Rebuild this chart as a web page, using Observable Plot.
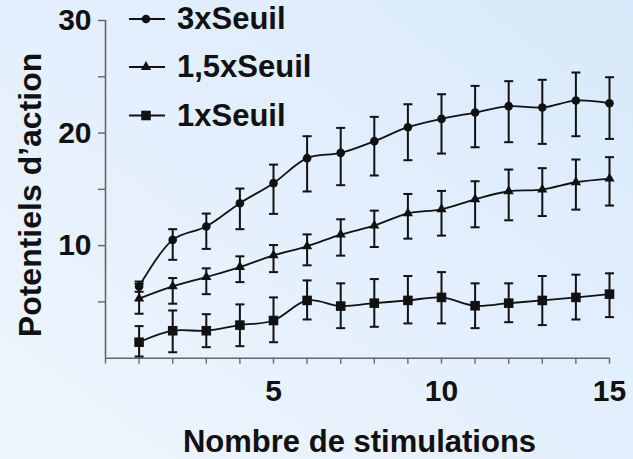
<!DOCTYPE html>
<html><head><meta charset="utf-8">
<script src="https://cdn.jsdelivr.net/npm/d3@7"></script>
<script src="https://cdn.jsdelivr.net/npm/@observablehq/plot@0.6"></script>
<style>
html,body{margin:0;padding:0;}
#wrap{position:relative;width:633px;height:459px;background:linear-gradient(to top right,#eef6fe,#d9e9fb);overflow:hidden;font-family:"Liberation Sans",Arial,sans-serif;}
#wrap svg{position:absolute;left:0;top:0;}
</style></head><body><div id="wrap"></div>
<script>
// Data
const stim = [1,2,3,4,5,6,7,8,9,10,11,12,13,14,15];
const seuil3Mean = [6.37,10.51,11.70,13.77,15.55,17.77,18.24,19.28,20.52,21.26,21.82,22.39,22.27,22.89,22.65];
const seuil3Low  = [5.90,8.74,9.71,11.46,12.82,14.81,15.37,16.23,17.59,18.18,18.74,19.19,19.04,19.72,19.48];
const seuil3High = [6.81,11.46,12.85,15.07,17.20,19.72,20.46,21.44,22.56,23.45,24.19,24.61,24.73,25.38,24.96];
const seuil15Mean = [5.30,6.38,7.21,8.10,9.14,9.94,10.98,11.78,12.87,13.23,14.12,14.83,14.98,15.63,15.96];
const seuil15Low  = [3.95,4.84,5.69,6.76,7.65,8.25,9.11,9.88,10.62,10.89,11.63,12.25,12.63,13.20,13.56];
const seuil15High = [6.60,7.12,7.98,9.05,10.05,11.00,12.34,13.11,14.59,14.86,15.72,16.76,16.88,17.65,17.86];
const seuil1Mean = [1.42,2.44,2.44,2.94,3.35,5.13,4.63,4.89,5.13,5.40,4.66,4.89,5.13,5.40,5.69];
const seuil1Low  = [0.15,0.53,0.98,1.07,1.42,3.44,2.67,2.79,3.09,3.09,2.67,3.20,2.94,3.44,3.65];
const seuil1High = [2.85,4.24,3.91,4.78,5.40,6.91,6.65,7.03,7.30,7.65,6.65,6.65,7.30,7.42,7.54];
const seriesNames = ["3xSeuil","1,5xSeuil","1xSeuil"];
const xTicks = [0,1,2,3,4,5,6,7,8,9,10,11,12,13,14,15];
const xLabels = [5,10,15];
const yTicks = [5,10,15,20,25,30];
const yLabels = [10,20,30];
const xTitle = "Nombre de stimulations";
const yTitle = "Potentiels d’action";

const ink = "#111";
const rows = (m, lo, hi) => stim.map((x, i) => ({x, y: m[i], lo: lo[i], hi: hi[i]}));
const sets = [
  {name: seriesNames[0], data: rows(seuil3Mean, seuil3Low, seuil3High), symbol: "circle", r: 4.3},
  {name: seriesNames[1], data: rows(seuil15Mean, seuil15Low, seuil15High), symbol: "triangle", r: 3.8},
  {name: seriesNames[2], data: rows(seuil1Mean, seuil1Low, seuil1High), symbol: "square", r: 5.4}
];
const cap = {draw(ctx, size) { const w = Math.sqrt(size / Math.PI); ctx.moveTo(-w, 0); ctx.lineTo(w, 0); }};

const marks = [
  Plot.ruleX([0], {stroke: "#666", strokeWidth: 1.6}),
  Plot.ruleY([0], {stroke: "#666", strokeWidth: 1.6}),
  Plot.axisX(xTicks, {tickSize: 6, tickPadding: 15, tickFormat: d => xLabels.includes(d) ? d : "", fontSize: 30, fill: ink, stroke: "#666", strokeWidth: 1.4, label: null}),
  Plot.axisY(yTicks, {tickSize: 7, tickPadding: 7, tickFormat: d => yLabels.includes(d) ? d : "", fontSize: 30, fill: ink, stroke: "#666", strokeWidth: 1.4, label: null}),
  Plot.text([xTitle], {text: d => d, frameAnchor: "bottom", textAnchor: "middle", lineAnchor: "bottom", dx: 2, dy: 94, fontSize: 31, fill: ink}),
  Plot.text([yTitle], {text: d => d, frameAnchor: "left", textAnchor: "middle", rotate: -90, lineAnchor: "bottom", dx: -65, dy: 5.6, fontSize: 32, fill: ink})
];
for (const s of sets) {
  marks.push(Plot.ruleX(s.data, {x: "x", y1: "lo", y2: "hi", stroke: ink, strokeWidth: 2}));
  marks.push(Plot.dot(s.data, {x: "x", y: "lo", symbol: cap, r: 4.5, stroke: ink, strokeWidth: 2, fill: "none"}));
  marks.push(Plot.dot(s.data, {x: "x", y: "hi", symbol: cap, r: 4.5, stroke: ink, strokeWidth: 2, fill: "none"}));
  marks.push(Plot.line(s.data, {x: "x", y: "y", curve: "catmull-rom", stroke: ink, strokeWidth: 1.8}));
  marks.push(Plot.dot(s.data, {x: "x", y: "y", symbol: s.symbol, r: s.r, fill: ink, stroke: "none"}));
}

const chart = Plot.plot({
  width: 633, height: 459,
  marginLeft: 105, marginRight: 24, marginTop: 20, marginBottom: 101.3,
  x: {domain: [0, 15], axis: null},
  y: {domain: [0, 30], axis: null},
  style: {background: "transparent", fontFamily: "'Liberation Sans', Arial, sans-serif", fontWeight: "bold", overflow: "visible"},
  marks
});
const wrap = document.getElementById("wrap");
wrap.appendChild(chart);

// Legend (top-left, inside plot area)
const leg = d3.select(wrap).append("svg").attr("width", 633).attr("height", 459)
  .style("pointer-events", "none").style("font-family", "'Liberation Sans', Arial, sans-serif").style("font-weight", "bold");
const rowY = [19, 67, 115.5];
sets.forEach((s, i) => {
  const g = leg.append("g").attr("transform", `translate(0,${rowY[i]})`);
  g.append("line").attr("x1", 129).attr("x2", 165).attr("y1", 0).attr("y2", 0).attr("stroke", ink).attr("stroke-width", 2);
  const sym = {circle: d3.symbolCircle, triangle: d3.symbolTriangle, square: d3.symbolSquare}[s.symbol];
  g.append("path").attr("transform", "translate(146,0)").attr("d", d3.symbol(sym, s.r * s.r * Math.PI)()).attr("fill", ink);
  g.append("text").attr("x", 177).attr("y", 10.4).attr("font-size", 31).attr("fill", ink).text(s.name);
});
</script></body></html>
